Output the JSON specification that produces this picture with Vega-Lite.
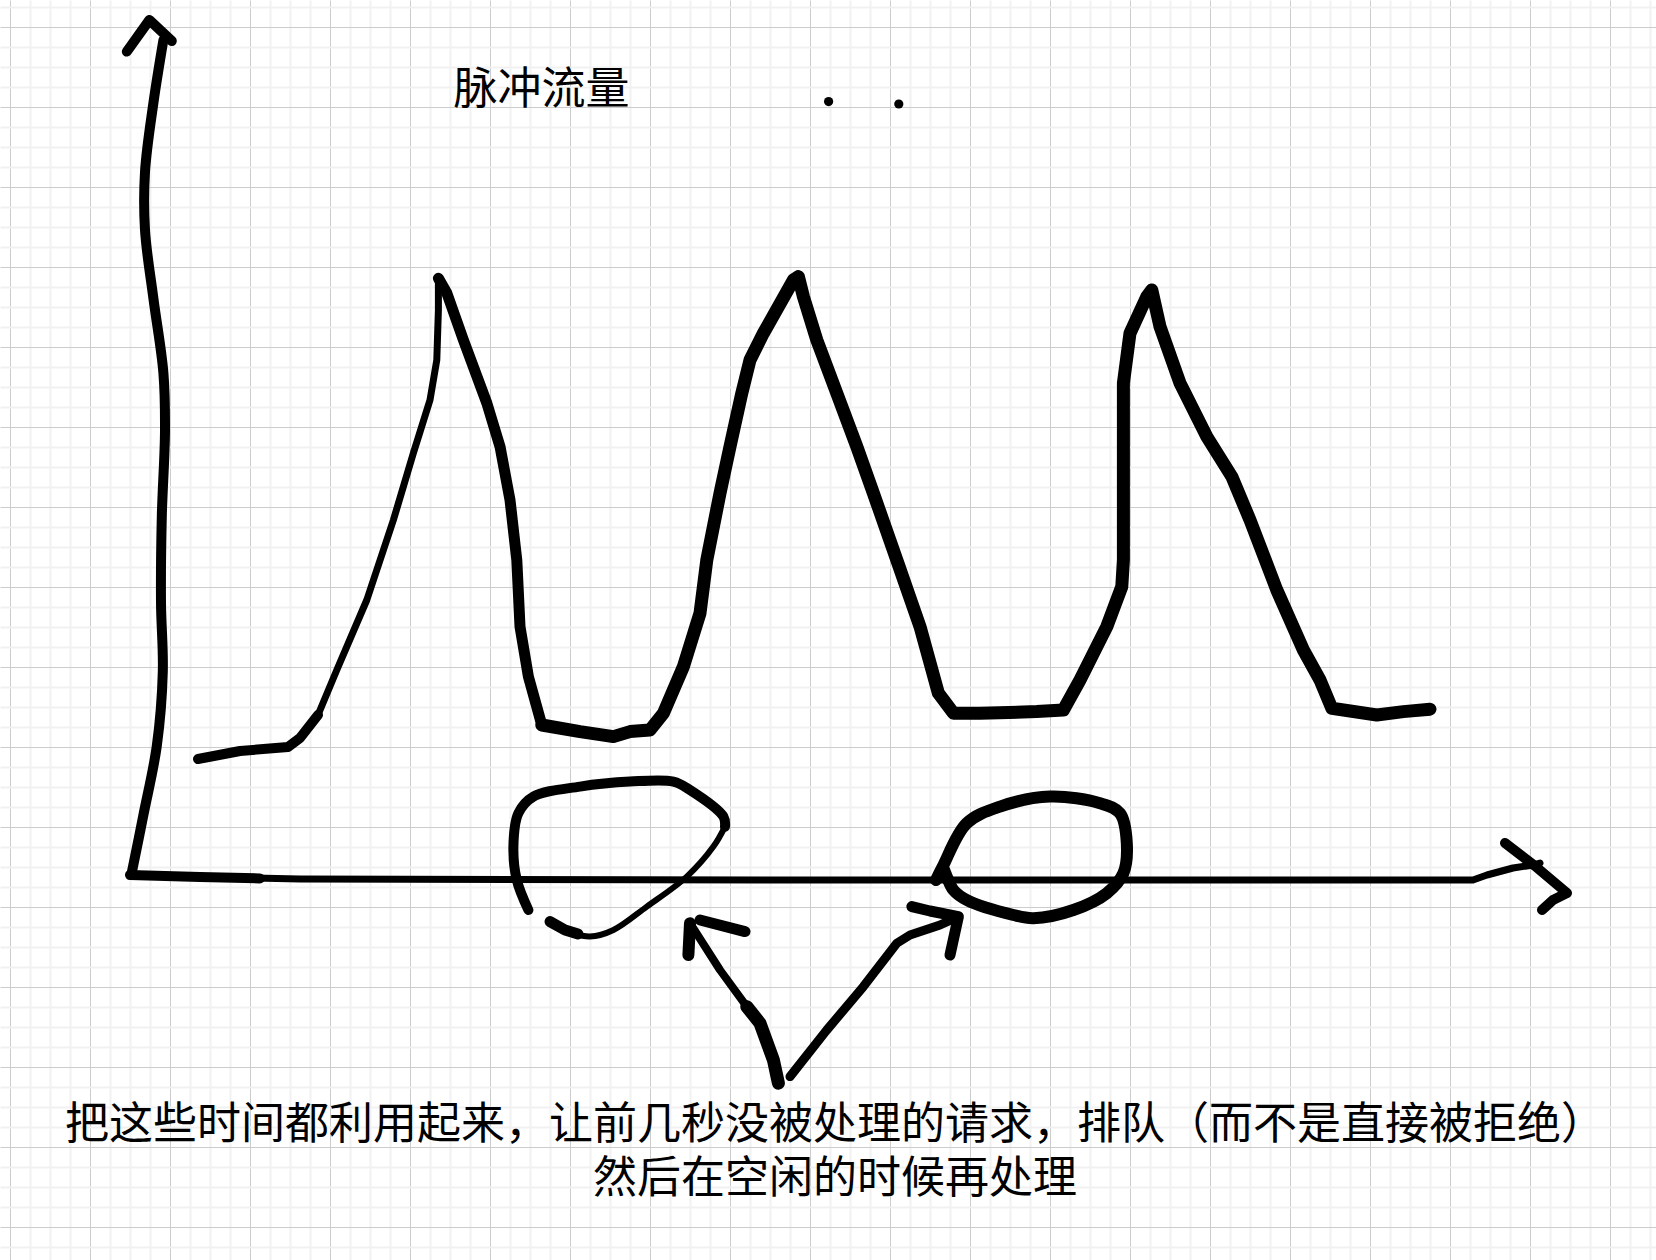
{
  "$schema": "https://vega.github.io/schema/vega-lite/v6.json",
  "width": 1656,
  "height": 1260,
  "autosize": {"type": "fit", "contains": "padding"},
  "padding": 0,
  "background": "white",
  "config": {"view": {"stroke": null}, "line": {"color": "black", "strokeCap": "round", "strokeJoin": "round"}},
  "datasets": {
    "strokes": [
      {"s":"yhead","i":0,"x":5.84,"y":60.77},{"s":"yhead","i":1,"x":6.97,"y":62.35},{"s":"yhead","i":2,"x":8.09,"y":61.3},
      {"s":"yaxis","i":0,"x":7.67,"y":61.35},{"s":"yaxis","i":1,"x":7.17,"y":58.2},{"s":"yaxis","i":2,"x":6.75,"y":54.75},{"s":"yaxis","i":3,"x":6.75,"y":51.85},{"s":"yaxis","i":4,"x":7.17,"y":48.43},{"s":"yaxis","i":5,"x":7.67,"y":44.7},{"s":"yaxis","i":6,"x":7.75,"y":41.83},{"s":"yaxis","i":7,"x":7.59,"y":37.52},{"s":"yaxis","i":8,"x":7.55,"y":33.21},{"s":"yaxis","i":9,"x":7.64,"y":29.77},{"s":"yaxis","i":10,"x":7.34,"y":26.05},{"s":"yaxis","i":11,"x":6.67,"y":22.6},{"s":"yaxis","i":12,"x":6.09,"y":19.72},
      {"s":"xaxisL","i":0,"x":6.0,"y":19.6},{"s":"xaxisL","i":1,"x":9.5,"y":19.5},{"s":"xaxisL","i":2,"x":12.5,"y":19.43},
      {"s":"xaxis","i":0,"x":6.0,"y":19.6},{"s":"xaxis","i":1,"x":14.5,"y":19.4},{"s":"xaxis","i":2,"x":39.5,"y":19.35},{"s":"xaxis","i":3,"x":73.15,"y":19.35},{"s":"xaxis","i":4,"x":73.85,"y":19.6},{"s":"xaxis","i":5,"x":75.15,"y":19.95},{"s":"xaxis","i":6,"x":76.15,"y":20.1},{"s":"xaxis","i":7,"x":76.5,"y":20.2},
      {"s":"xhead","i":0,"x":74.75,"y":21.2},{"s":"xhead","i":1,"x":76.25,"y":20.05},{"s":"xhead","i":2,"x":77.85,"y":18.7},{"s":"xhead","i":3,"x":77.15,"y":18.35},{"s":"xhead","i":4,"x":76.6,"y":17.85},
      {"s":"c1a","i":0,"x":9.4,"y":25.4},{"s":"c1a","i":1,"x":11.5,"y":25.8},{"s":"c1a","i":2,"x":13.9,"y":26.0},{"s":"c1a","i":3,"x":14.5,"y":26.45},{"s":"c1a","i":4,"x":15.4,"y":27.6},
      {"s":"c1b","i":0,"x":15.4,"y":27.6},{"s":"c1b","i":1,"x":16.34,"y":29.85},{"s":"c1b","i":2,"x":17.84,"y":33.35},{"s":"c1b","i":3,"x":19.17,"y":37.35},{"s":"c1b","i":4,"x":20.17,"y":40.7},{"s":"c1b","i":5,"x":21.0,"y":43.35},{"s":"c1b","i":6,"x":21.34,"y":45.35},{"s":"c1b","i":7,"x":21.42,"y":47.85},{"s":"c1b","i":8,"x":21.42,"y":49.44},
      {"s":"c2","i":0,"x":21.42,"y":49.44},{"s":"c2","i":1,"x":21.84,"y":48.7},{"s":"c2","i":2,"x":22.67,"y":46.35},{"s":"c2","i":3,"x":23.84,"y":43.2},{"s":"c2","i":4,"x":24.5,"y":41.02},{"s":"c2","i":5,"x":25.0,"y":38.35},{"s":"c2","i":6,"x":25.34,"y":35.35},{"s":"c2","i":7,"x":25.5,"y":32.02},{"s":"c2","i":8,"x":25.92,"y":29.52},{"s":"c2","i":9,"x":26.59,"y":27.1},
      {"s":"c3","i":0,"x":26.59,"y":27.1},{"s":"c3","i":1,"x":28.5,"y":26.77},{"s":"c3","i":2,"x":30.17,"y":26.52},{"s":"c3","i":3,"x":31.0,"y":26.77},{"s":"c3","i":4,"x":32.0,"y":26.85},{"s":"c3","i":5,"x":32.67,"y":27.69},{"s":"c3","i":6,"x":33.67,"y":30.02},{"s":"c3","i":7,"x":34.5,"y":32.69},{"s":"c3","i":8,"x":34.84,"y":35.35},{"s":"c3","i":9,"x":35.5,"y":38.69},{"s":"c3","i":10,"x":36.0,"y":41.02},{"s":"c3","i":11,"x":36.59,"y":43.69},{"s":"c3","i":12,"x":37.0,"y":45.35},{"s":"c3","i":13,"x":37.67,"y":46.69},{"s":"c3","i":14,"x":39.17,"y":49.35},{"s":"c3","i":15,"x":39.42,"y":49.52},{"s":"c3","i":16,"x":39.67,"y":48.52},{"s":"c3","i":17,"x":40.34,"y":46.35},{"s":"c3","i":18,"x":41.34,"y":43.69},{"s":"c3","i":19,"x":42.34,"y":41.02},{"s":"c3","i":20,"x":43.17,"y":38.69},{"s":"c3","i":21,"x":44.34,"y":35.35},{"s":"c3","i":22,"x":45.5,"y":32.02},{"s":"c3","i":23,"x":46.42,"y":28.69},{"s":"c3","i":24,"x":47.17,"y":27.69},{"s":"c3","i":25,"x":48.5,"y":27.69},{"s":"c3","i":26,"x":51.34,"y":27.77},{"s":"c3","i":27,"x":52.67,"y":27.85},{"s":"c3","i":28,"x":53.5,"y":29.35},{"s":"c3","i":29,"x":54.84,"y":32.02},{"s":"c3","i":30,"x":55.59,"y":34.02},{"s":"c3","i":31,"x":55.67,"y":35.35},{"s":"c3","i":32,"x":55.67,"y":40.35},{"s":"c3","i":33,"x":55.67,"y":44.19},{"s":"c3","i":34,"x":56.0,"y":46.69},{"s":"c3","i":35,"x":56.84,"y":48.52},{"s":"c3","i":36,"x":57.09,"y":48.85},{"s":"c3","i":37,"x":57.5,"y":47.02},{"s":"c3","i":38,"x":58.5,"y":44.19},{"s":"c3","i":39,"x":59.84,"y":41.52},{"s":"c3","i":40,"x":61.09,"y":39.52},{"s":"c3","i":41,"x":62.0,"y":37.35},{"s":"c3","i":42,"x":63.34,"y":33.85},{"s":"c3","i":43,"x":64.67,"y":30.85},{"s":"c3","i":44,"x":65.5,"y":29.35},{"s":"c3","i":45,"x":66.09,"y":27.94},{"s":"c3","i":46,"x":68.34,"y":27.6},{"s":"c3","i":47,"x":69.67,"y":27.77},{"s":"c3","i":48,"x":71.0,"y":27.89},
      {"s":"o1a","i":0,"x":25.92,"y":17.85},{"s":"o1a","i":1,"x":25.34,"y":19.35},{"s":"o1a","i":2,"x":25.17,"y":21.02},{"s":"o1a","i":3,"x":25.42,"y":22.69},{"s":"o1a","i":4,"x":26.17,"y":23.52},{"s":"o1a","i":5,"x":28.5,"y":24.02},{"s":"o1a","i":6,"x":31.0,"y":24.27},{"s":"o1a","i":7,"x":33.17,"y":24.27},{"s":"o1a","i":8,"x":34.0,"y":23.85},{"s":"o1a","i":9,"x":35.67,"y":22.52},{"s":"o1a","i":10,"x":35.75,"y":22.02},
      {"s":"o1b","i":0,"x":35.75,"y":22.02},{"s":"o1b","i":1,"x":35.17,"y":21.02},{"s":"o1b","i":2,"x":33.84,"y":19.52},{"s":"o1b","i":3,"x":31.84,"y":18.02},{"s":"o1b","i":4,"x":30.17,"y":16.85},{"s":"o1b","i":5,"x":29.0,"y":16.52},{"s":"o1b","i":6,"x":28.17,"y":16.69},
      {"s":"o1c","i":0,"x":28.4,"y":16.65},{"s":"o1c","i":1,"x":27.75,"y":16.85},{"s":"o1c","i":2,"x":27.0,"y":17.27},
      {"s":"o2","i":0,"x":46.3,"y":19.35},{"s":"o2","i":1,"x":46.65,"y":20.05},{"s":"o2","i":2,"x":47.84,"y":22.19},{"s":"o2","i":3,"x":49.5,"y":23.02},{"s":"o2","i":4,"x":52.0,"y":23.52},{"s":"o2","i":5,"x":54.5,"y":23.19},{"s":"o2","i":6,"x":55.5,"y":22.69},{"s":"o2","i":7,"x":55.84,"y":21.19},{"s":"o2","i":8,"x":55.67,"y":19.69},{"s":"o2","i":9,"x":54.84,"y":18.69},{"s":"o2","i":10,"x":53.17,"y":17.85},{"s":"o2","i":11,"x":51.17,"y":17.44},{"s":"o2","i":12,"x":50.17,"y":17.6},{"s":"o2","i":13,"x":47.84,"y":18.35},{"s":"o2","i":14,"x":47.17,"y":18.85},{"s":"o2","i":15,"x":46.84,"y":19.52},{"s":"o2","i":16,"x":46.67,"y":19.94},
      {"s":"a1s1","i":0,"x":34.0,"y":17.19},{"s":"a1s1","i":1,"x":35.5,"y":14.85},{"s":"a1s1","i":2,"x":36.84,"y":13.02},
      {"s":"a1s2","i":0,"x":36.84,"y":13.02},{"s":"a1s2","i":1,"x":37.5,"y":12.19},{"s":"a1s2","i":2,"x":38.17,"y":10.35},{"s":"a1s2","i":3,"x":38.42,"y":9.19},
      {"s":"a1h1","i":0,"x":33.92,"y":15.6},{"s":"a1h1","i":1,"x":34.0,"y":17.19},
      {"s":"a1h2","i":0,"x":34.5,"y":17.35},{"s":"a1h2","i":1,"x":36.75,"y":16.77},
      {"s":"a2s","i":0,"x":39.0,"y":9.52},{"s":"a2s","i":1,"x":40.84,"y":11.85},{"s":"a2s","i":2,"x":42.67,"y":14.02},{"s":"a2s","i":3,"x":44.34,"y":16.19},{"s":"a2s","i":4,"x":45.0,"y":16.6},{"s":"a2s","i":5,"x":46.5,"y":17.1},{"s":"a2s","i":6,"x":47.42,"y":17.52},
      {"s":"a2h","i":0,"x":45.09,"y":18.02},{"s":"a2h","i":1,"x":46.0,"y":17.8},{"s":"a2h","i":2,"x":47.42,"y":17.52},{"s":"a2h","i":3,"x":47.0,"y":15.6}
    ],
    "dots": [
      {"x":40.93,"y":58.27},{"x":44.44,"y":58.15}
    ],
    "labels": [
      {"t":"脉冲流量","x":26.58,"y":58.15},
      {"t":"把这些时间都利用起来，让前几秒没被处理的请求，排队（而不是直接被拒绝）","x":41.25,"y":6.4},
      {"t":"然后在空闲的时候再处理","x":41.25,"y":3.72}
    ]
  },
  "encoding": {
    "x": {
      "field": "x", "type": "quantitative",
      "scale": {"domain": [-0.5, 82.3], "nice": false, "zero": false},
      "axis": {
        "values": [0,1,2,3,4,5,6,7,8,9,10,11,12,13,14,15,16,17,18,19,20,21,22,23,24,25,26,27,28,29,30,31,32,33,34,35,36,37,38,39,40,41,42,43,44,45,46,47,48,49,50,51,52,53,54,55,56,57,58,59,60,61,62,63,64,65,66,67,68,69,70,71,72,73,74,75,76,77,78,79,80,81,82],
        "grid": true,
        "gridColor": {"condition": {"test": "datum.value % 4 === 0", "value": "#cccccc"}, "value": "#f1f1f1"},
        "gridWidth": {"condition": {"test": "datum.value % 4 === 0", "value": 1}, "value": 2},
        "labels": false, "ticks": false, "domain": false, "title": null, "minExtent": 0, "maxExtent": 0
      }
    },
    "y": {
      "field": "y", "type": "quantitative",
      "scale": {"domain": [0.35, 63.35], "nice": false, "zero": false},
      "axis": {
        "values": [1,2,3,4,5,6,7,8,9,10,11,12,13,14,15,16,17,18,19,20,21,22,23,24,25,26,27,28,29,30,31,32,33,34,35,36,37,38,39,40,41,42,43,44,45,46,47,48,49,50,51,52,53,54,55,56,57,58,59,60,61,62,63],
        "grid": true,
        "gridColor": {"condition": {"test": "datum.value % 4 === 2", "value": "#cccccc"}, "value": "#f1f1f1"},
        "gridWidth": {"condition": {"test": "datum.value % 4 === 2", "value": 1}, "value": 2},
        "labels": false, "ticks": false, "domain": false, "title": null, "minExtent": 0, "maxExtent": 0
      }
    }
  },
  "layer": [
    {
      "data": {"name": "strokes"},
      "transform": [{"filter": {"field": "s", "oneOf": ["xaxis","c1b"]}}],
      "mark": {"type": "line", "strokeWidth": 7, "interpolate": "linear"},
      "encoding": {"detail": {"field": "s", "type": "nominal"}, "order": {"field": "i", "type": "quantitative"}}
    },
    {
      "data": {"name": "strokes"},
      "transform": [{"filter": {"field": "s", "oneOf": ["a1s1"]}}],
      "mark": {"type": "line", "strokeWidth": 8, "interpolate": "linear"},
      "encoding": {"detail": {"field": "s", "type": "nominal"}, "order": {"field": "i", "type": "quantitative"}}
    },
    {
      "data": {"name": "strokes"},
      "transform": [{"filter": {"field": "s", "oneOf": ["a2s"]}}],
      "mark": {"type": "line", "strokeWidth": 9, "interpolate": "linear"},
      "encoding": {"detail": {"field": "s", "type": "nominal"}, "order": {"field": "i", "type": "quantitative"}}
    },
    {
      "data": {"name": "strokes"},
      "transform": [{"filter": {"field": "s", "oneOf": ["yhead","xaxisL","xhead","c1a"]}}],
      "mark": {"type": "line", "strokeWidth": 10, "interpolate": "linear"},
      "encoding": {"detail": {"field": "s", "type": "nominal"}, "order": {"field": "i", "type": "quantitative"}}
    },
    {
      "data": {"name": "strokes"},
      "transform": [{"filter": {"field": "s", "oneOf": ["c2","o1c","a1h2","a2h"]}}],
      "mark": {"type": "line", "strokeWidth": 11, "interpolate": "linear"},
      "encoding": {"detail": {"field": "s", "type": "nominal"}, "order": {"field": "i", "type": "quantitative"}}
    },
    {
      "data": {"name": "strokes"},
      "transform": [{"filter": {"field": "s", "oneOf": ["a1h1"]}}],
      "mark": {"type": "line", "strokeWidth": 12, "interpolate": "linear"},
      "encoding": {"detail": {"field": "s", "type": "nominal"}, "order": {"field": "i", "type": "quantitative"}}
    },
    {
      "data": {"name": "strokes"},
      "transform": [{"filter": {"field": "s", "oneOf": ["c3","a1s2"]}}],
      "mark": {"type": "line", "strokeWidth": 13, "interpolate": "linear"},
      "encoding": {"detail": {"field": "s", "type": "nominal"}, "order": {"field": "i", "type": "quantitative"}}
    },
    {
      "data": {"name": "strokes"},
      "transform": [{"filter": {"field": "s", "oneOf": ["o1b"]}}],
      "mark": {"type": "line", "strokeWidth": 6, "interpolate": "catmull-rom"},
      "encoding": {"detail": {"field": "s", "type": "nominal"}, "order": {"field": "i", "type": "quantitative"}}
    },
    {
      "data": {"name": "strokes"},
      "transform": [{"filter": {"field": "s", "oneOf": ["yaxis","o1a"]}}],
      "mark": {"type": "line", "strokeWidth": 10, "interpolate": "catmull-rom"},
      "encoding": {"detail": {"field": "s", "type": "nominal"}, "order": {"field": "i", "type": "quantitative"}}
    },
    {
      "data": {"name": "strokes"},
      "transform": [{"filter": {"field": "s", "oneOf": ["o2"]}}],
      "mark": {"type": "line", "strokeWidth": 12, "interpolate": "catmull-rom"},
      "encoding": {"detail": {"field": "s", "type": "nominal"}, "order": {"field": "i", "type": "quantitative"}}
    },
    {
      "data": {"name": "dots"},
      "mark": {"type": "point", "shape": "circle", "filled": true, "color": "black", "opacity": 1, "size": 85}
    },
    {
      "data": {"name": "labels"},
      "mark": {"type": "text", "font": "Noto Sans CJK SC", "fontSize": 44, "color": "black", "align": "center", "baseline": "alphabetic"},
      "encoding": {"text": {"field": "t", "type": "nominal"}}
    }
  ]
}
